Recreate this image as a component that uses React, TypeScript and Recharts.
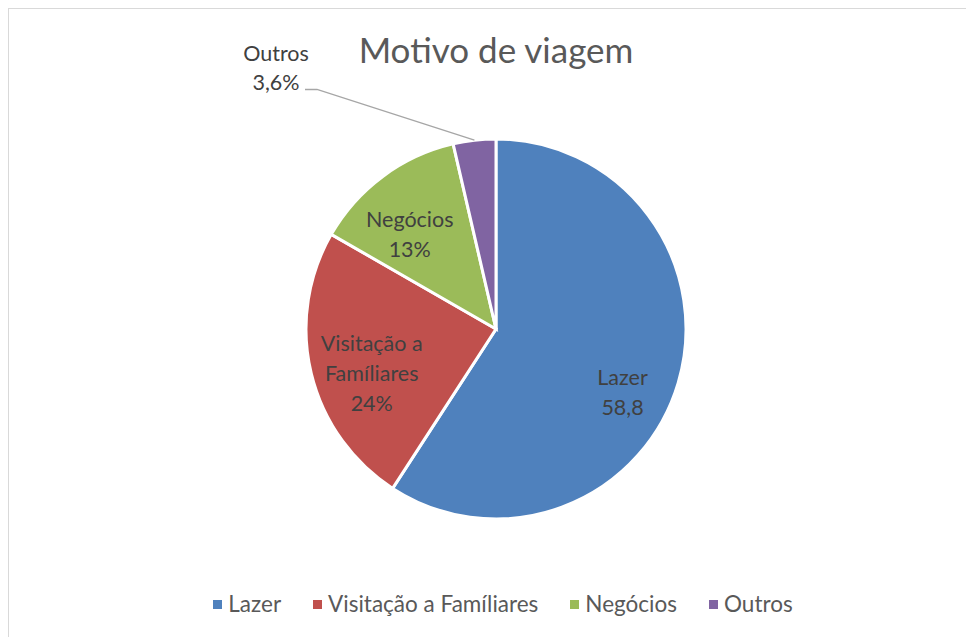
import { PieChart, Pie, Cell, Legend } from "recharts";

const categories = ["Lazer", "Visitação a Famíliares", "Negócios", "Outros"];
const values = [58.8, 24, 13, 3.6];
const valueLabels = ["58,8", "24%", "13%", "3,6%"];
const labelLines = [["Lazer"], ["Visitação a", "Famíliares"], ["Negócios"], ["Outros"]];
const colors = ["#4F81BD", "#C0504D", "#9BBB59", "#8064A2"];

const data = categories.map((name, i) => ({ name, value: values[i] }));

const RADIAN = Math.PI / 180;
const FONT = "Lato, 'Noto Sans', sans-serif";
const labelNudge = [
  [-1, 25],
  [5, 13],
  [-7, 12],
];

const renderLabel = (props: any) => {
  const { cx, cy, midAngle, outerRadius, index } = props;
  const lines = [...labelLines[index], valueLabels[index]];
  const cos = Math.cos(-midAngle * RADIAN);
  const sin = Math.sin(-midAngle * RADIAN);

  if (index === 3) {
    // small slice: label outside with a leader line
    const ex = cx + outerRadius * cos;
    const ey = cy + outerRadius * sin;
    const mx = cx - 179;
    const my = cy - 239.5;
    return (
      <g>
        <polyline
          points={`${ex},${ey} ${mx},${my} ${mx - 12},${my}`}
          fill="none"
          stroke="#a6a6a6"
          strokeWidth={1.3}
        />
        <text x={cx - 220} y={cy - 268.5} textAnchor="middle" fill="#404040" fontSize={21.5} fontFamily={FONT}>
          <tspan x={cx - 220}>{lines[0]}</tspan>
          <tspan x={cx - 220} dy={29}>{lines[1]}</tspan>
        </text>
      </g>
    );
  }

  const r = outerRadius * 0.7;
  const x = cx + r * cos + labelNudge[index][0];
  const y = cy + r * sin + labelNudge[index][1];
  const lh = 30;
  const y0 = y - ((lines.length - 1) * lh) / 2;
  return (
    <text
      x={x}
      y={y0}
      textAnchor="middle"
      dominantBaseline="central"
      fill="#404040"
      fontSize={21.5}
      fontFamily={FONT}
    >
      {lines.map((t, i) => (
        <tspan key={i} x={x} dy={i === 0 ? 0 : lh}>
          {t}
        </tspan>
      ))}
    </text>
  );
};

const renderLegend = () => (
  <div
    style={{
      display: "flex",
      justifyContent: "center",
      gap: 32,
      paddingLeft: 23,
      fontFamily: FONT,
      fontSize: 22.5,
      lineHeight: "22px",
      color: "#595959",
    }}
  >
    {categories.map((name, i) => (
      <div key={name} style={{ display: "flex", alignItems: "center" }}>
        <span
          style={{
            display: "inline-block",
            width: 9,
            height: 9,
            background: colors[i],
            marginRight: 6,
          }}
        />
        <span>{name}</span>
      </div>
    ))}
  </div>
);

export default function App() {
  return (
    <div
      style={{
        position: "relative",
        width: 966,
        height: 629,
        boxSizing: "border-box",
        borderLeft: "1px solid #d9d9d9",
        borderTop: "1px solid #d9d9d9",
        background: "#fff",
        overflow: "hidden",
      }}
    >
      <div
        style={{
          position: "absolute",
          top: 23,
          left: 487,
          transform: "translateX(-50%)",
          fontFamily: FONT,
          fontSize: 35,
          lineHeight: "35px",
          color: "#595959",
          whiteSpace: "nowrap",
          zIndex: 2,
        }}
      >
        Motivo de viagem
      </div>
      <PieChart width={965} height={628} margin={{ top: 0, right: 0, bottom: 0, left: 0 }}>
        <Pie
          data={data}
          dataKey="value"
          nameKey="name"
          cx={487}
          cy={320}
          outerRadius={190}
          startAngle={90}
          endAngle={-270}
          stroke="#fff"
          strokeWidth={3}
          label={renderLabel}
          labelLine={false}
          isAnimationActive={false}
        >
          {data.map((d, i) => (
            <Cell key={d.name} fill={colors[i]} />
          ))}
        </Pie>
        <Legend
          content={renderLegend}
          verticalAlign="bottom"
          wrapperStyle={{ top: 584, left: 0, width: 965, bottom: "auto" }}
        />
      </PieChart>
    </div>
  );
}
